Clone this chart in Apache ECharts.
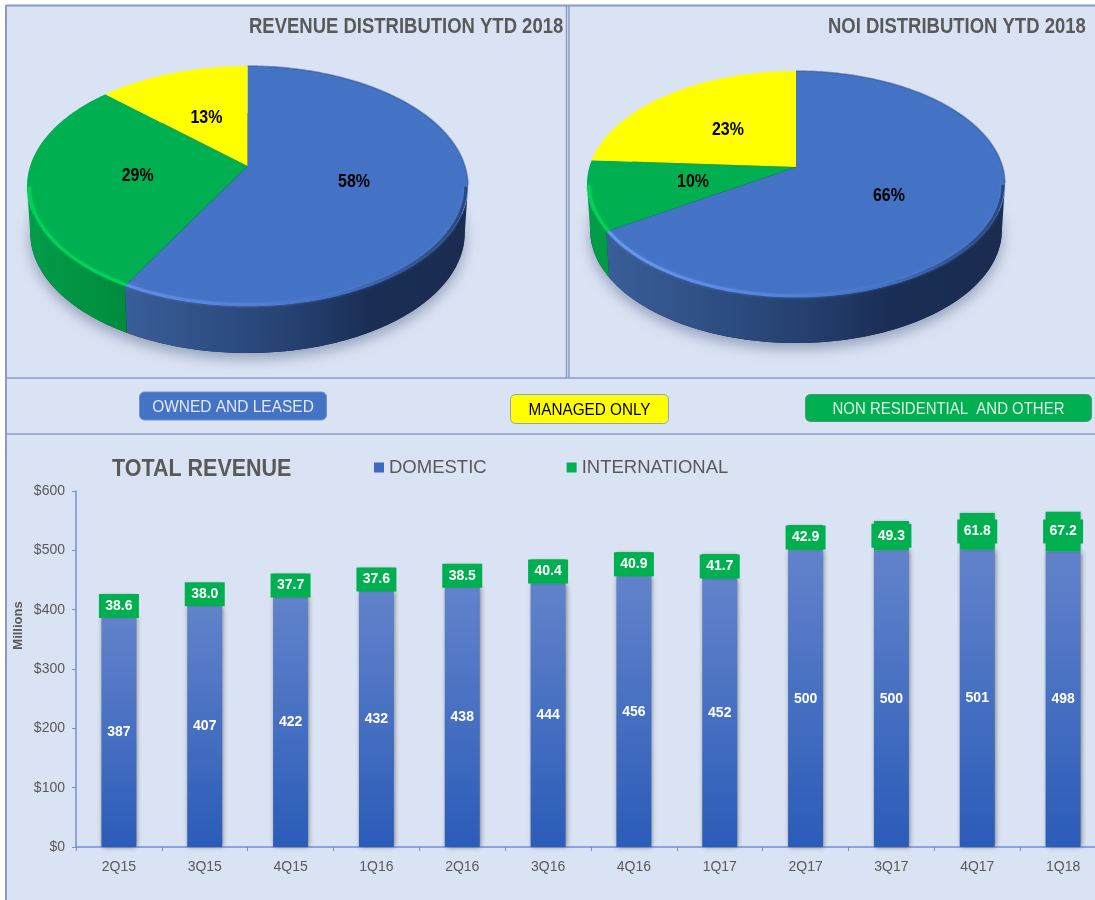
<!DOCTYPE html>
<html>
<head>
<meta charset="utf-8">
<title>Revenue</title>
<style>
  html, body { margin: 0; padding: 0; background: #fff; }
  #main { width: 1095px; height: 900px; }
</style>
<script src="https://cdn.jsdelivr.net/npm/echarts@6/dist/echarts.min.js"></script>
</head>
<body>
<div id="main"></div>
<script>
var quarters = ['2Q15','3Q15','4Q15','1Q16','2Q16','3Q16','4Q16','1Q17','2Q17','3Q17','4Q17','1Q18'];
var domestic = [387, 407, 422, 432, 438, 444, 456, 452, 500, 500, 501, 498];
var international = [38.6, 38.0, 37.7, 37.6, 38.5, 40.4, 40.9, 41.7, 42.9, 49.3, 61.8, 67.2];
var sliceNames = ['OWNED AND LEASED', 'NON RESIDENTIAL  AND OTHER', 'MANAGED ONLY'];
var revenueShares = [58, 29, 13];
var noiShares = [66, 10, 23];

var ARIAL = '"Liberation Sans", sans-serif';
var GRAY = '#595959';
var topColors = ['#4472c4', '#00b050', '#ffff00'];
var wallStops = [
    [{offset: 0, color: '#3a5e9a'}, {offset: 0.5, color: '#24406f'}, {offset: 0.72, color: '#1a2d54'}, {offset: 1, color: '#1a2c50'}],
    [{offset: 0, color: '#029d48'}, {offset: 0.3, color: '#00853a'}, {offset: 1, color: '#00853a'}],
    [{offset: 0, color: '#cccc00'}, {offset: 1, color: '#cccc00'}]
];
var rimStops = [
    [{offset: 0, color: '#6d9cf2'}, {offset: 0.45, color: '#5583da'}, {offset: 0.7, color: '#4472c4'}, {offset: 0.85, color: '#35599c'}, {offset: 1, color: '#2a4778'}],
    [{offset: 0, color: '#00d35c'}, {offset: 1, color: '#00d35c'}],
    [{offset: 0, color: '#ffff00'}, {offset: 1, color: '#ffff00'}]
];

// perspective 3d pie: a circle mapped on an ellipse, the apex sits above the ellipse center
function piePoint(pie, u, v, k) {
    var d = 1 + pie.b * v;
    var up = u * Math.sqrt(1 - pie.b * pie.b) / d;
    var vp = (v + pie.b) / d;
    return [pie.cx + pie.rx * (k || 1) * up, pie.cy + pie.ry * (k || 1) * vp];
}

function arcPoint(pie, share, k) {
    var a = share / 100 * Math.PI * 2;
    return piePoint(pie, Math.sin(a), -Math.cos(a), k);
}

function pieRenderer(pie, shares) {
    return function (params, api) {
        var i = params.dataIndex;
        var start = 0, j;
        for (j = 0; j < i; j++) start += shares[j];
        var end = i === shares.length - 1 ? 100 : start + api.value(0);
        var children = [];
        var top = [piePoint(pie, 0, 0)];
        var front = [], upper = [], wall = [], back = [];
        var steps = Math.ceil((end - start) * 4);
        for (j = 0; j <= steps; j++) {
            var s = start + (end - start) * j / steps;
            var p = arcPoint(pie, s);
            top.push(p);
            if (p[1] >= pie.cy) {
                front.push(arcPoint(pie, s, 0.99));
                wall.push(p);
                back.unshift([pie.cx + (p[0] - pie.cx) * pie.bottomK, p[1] + pie.depth]);
            } else {
                upper.push(p);
            }
        }
        if (i === 0) {
            var rim = [];
            for (j = 0; j < 360; j += 2) {
                rim.push([pie.cx + pie.rx * pie.bottomK * Math.cos(j * Math.PI / 180), pie.cy + pie.depth + pie.ry * Math.sin(j * Math.PI / 180)]);
            }
            children.push({
                type: 'polygon', shape: {points: rim},
                style: {fill: '#1a2c50', shadowBlur: 14, shadowOffsetY: 6, shadowColor: 'rgba(90,105,140,0.55)'}
            });
        }
        var x0 = pie.cx - pie.rx, x1 = pie.cx + pie.rx;
        if (wall.length > 1) {
            var wallLeft = Math.min(wall[0][0], wall[wall.length - 1][0]);
            var left = i === 0 ? wallLeft : x0;
            children.push({
                type: 'polygon', shape: {points: wall.concat(back)},
                style: {fill: new echarts.graphic.LinearGradient(left, 0, x1, 0, wallStops[i], true)}
            });
        }
        children.push({type: 'polygon', shape: {points: top}, style: {fill: topColors[i]}});
        if (front.length > 1) {
            children.push({
                type: 'polyline', shape: {points: front},
                style: {
                    fill: null, lineWidth: 3, shadowBlur: 3,
                    shadowColor: i === 0 ? 'rgba(90,140,235,0.6)' : 'rgba(0,210,90,0.6)',
                    stroke: new echarts.graphic.LinearGradient(x0, 0, x1, 0, rimStops[i], true)
                }
            });
        }
        if (i === 0 && upper.length > 1) {
            children.push({type: 'polyline', shape: {points: upper}, style: {fill: null, lineWidth: 1.5, stroke: 'rgba(47,80,135,0.5)'}});
        }
        var mid = (start + end) / 2 / 100 * Math.PI * 2;
        var lab = piePoint(pie, 0.5 * Math.sin(mid), -0.5 * Math.cos(mid));
        children.push({
            type: 'text',
            x: lab[0] - 1, y: lab[1] + 1, scaleX: 0.84,
            style: {
                x: 0, y: 0, text: api.value(0) + '%', fill: '#000',
                font: 'bold 19px ' + ARIAL, align: 'center', verticalAlign: 'middle'
            }
        });
        return {type: 'group', children: children};
    };
}

function button(x, y, w, h, fill, border, label, color, scale) {
    return [
        {type: 'rect', z: 2, shape: {x: x, y: y, width: w, height: h, r: 5}, style: {fill: fill, stroke: border, lineWidth: 1}},
        {
            type: 'text', z: 3, x: x + w / 2, y: y + h / 2 + 1.5, scaleX: scale,
            style: {x: 0, y: 0, text: label, fill: color, font: '17px ' + ARIAL, align: 'center', verticalAlign: 'middle'}
        }
    ];
}

function heading(x, y, label, size, scale) {
    return {
        type: 'text', z: 3, x: x, y: y, scaleX: scale,
        style: {x: 0, y: 0, text: label, fill: GRAY, font: 'bold ' + size + 'px ' + ARIAL, align: 'left', verticalAlign: 'middle'}
    };
}

function hline(y, w) {
    return {type: 'line', z: 1, shape: {x1: 6, y1: y, x2: 1095, y2: y}, style: {stroke: '#8a9cc6', lineWidth: w}};
}
function vline(x, y1, y2, w) {
    return {type: 'line', z: 1, shape: {x1: x, y1: y1, x2: x, y2: y2}, style: {stroke: '#8a9cc6', lineWidth: w}};
}

var myChart = echarts.init(document.getElementById('main'));
var option = {
    animation: false,
    backgroundColor: '#ffffff',
    textStyle: {fontFamily: ARIAL},
    legend: {
        left: 374, top: 458, padding: 0, itemWidth: 10, itemHeight: 10, itemGap: 80,
        icon: 'rect',
        textStyle: {color: GRAY, fontSize: 18.5, fontFamily: ARIAL},
        data: [
            {name: 'DOMESTIC', itemStyle: {color: '#3f68bf'}},
            {name: 'INTERNATIONAL', itemStyle: {color: '#00b050'}}
        ]
    },
    graphic: [
        {type: 'rect', z: 0, shape: {x: 6, y: 5, width: 1089, height: 895}, style: {fill: '#dae3f3'}},
        hline(5.5, 2), hline(378, 1.5), hline(434, 1.5),
        vline(6, 5, 900, 2), vline(566.5, 5, 378, 1.5), vline(569, 5, 378, 1.5),
        heading(249, 27, 'REVENUE DISTRIBUTION YTD 2018', 22, 0.84),
        heading(828, 27, 'NOI DISTRIBUTION YTD 2018', 22, 0.84),
        heading(112, 469, 'TOTAL REVENUE', 24, 0.895),
        {
            type: 'text', z: 3, x: 18.5, y: 625.5, rotation: Math.PI / 2,
            style: {x: 0, y: 0, text: 'Millions', fill: GRAY, font: 'bold 13px ' + ARIAL, align: 'center', verticalAlign: 'middle'}
        }
    ].concat(
        button(139.5, 392, 187, 28, '#4472c4', '#6f8fd0', sliceNames[0], '#e3e9f7', 0.91),
        button(510.5, 394.5, 158, 29, '#ffff00', '#8ea3cc', sliceNames[2], '#000000', 0.9),
        button(805.5, 394.5, 286, 27, '#00b050', '#4a9a70', sliceNames[1], '#e3f3e9', 0.88)
    ),
    // the plot runs past the right edge of the picture, as in the source
    grid: {left: 76, top: 491, right: -11, height: 356, outerBoundsMode: 'none'},
    xAxis: {
        type: 'category',
        data: quarters,
        axisLine: {lineStyle: {color: '#7390d8', width: 1.5}},
        axisTick: {show: true, alignWithLabel: false, length: 4, lineStyle: {color: '#7390d8'}},
        axisLabel: {color: GRAY, fontSize: 14, margin: 13, interval: 0, fontFamily: ARIAL}
    },
    yAxis: {
        type: 'value',
        min: 0, max: 600, interval: 100,
        splitLine: {show: false},
        axisLine: {show: true, lineStyle: {color: '#7390d8', width: 1.5}},
        axisTick: {show: true, length: 4, lineStyle: {color: '#7390d8'}},
        axisLabel: {color: GRAY, fontSize: 14, margin: 11, fontFamily: ARIAL, formatter: function (v) { return '$' + v; }}
    },
    series: [
        {
            name: 'DOMESTIC',
            type: 'bar',
            stack: 'total',
            barWidth: 35,
            data: domestic,
            itemStyle: {
                color: new echarts.graphic.LinearGradient(0, 0, 0, 1, [{offset: 0, color: '#6283cb'}, {offset: 1, color: '#2b5cb8'}]),
                shadowBlur: 5, shadowColor: 'rgba(70,70,70,0.7)', shadowOffsetX: 1
            },
            label: {show: true, position: 'inside', color: '#fff', fontSize: 14, fontWeight: 'bold', fontFamily: ARIAL}
        },
        {
            name: 'INTERNATIONAL',
            type: 'bar',
            stack: 'total',
            barWidth: 35,
            data: international,
            itemStyle: {color: '#00b050', shadowBlur: 3, shadowColor: 'rgba(70,70,70,0.4)'},
            label: {
                show: true, position: 'inside', color: '#fff', fontSize: 14, fontWeight: 'bold', fontFamily: ARIAL,
                backgroundColor: '#00b050', width: 40, height: 24, lineHeight: 24, align: 'center',
                formatter: function (p) { return p.value.toFixed(1); }
            }
        },
        {
            type: 'custom', coordinateSystem: 'none', silent: true, z: 5,
            data: revenueShares,
            renderItem: pieRenderer({cx: 247.5, cy: 186, rx: 220.5, ry: 120, b: -1 / 6, depth: 47, bottomK: 0.985}, revenueShares)
        },
        {
            type: 'custom', coordinateSystem: 'none', silent: true, z: 5,
            data: noiShares,
            renderItem: pieRenderer({cx: 796, cy: 184, rx: 209, ry: 113, b: -0.15, depth: 46, bottomK: 0.985}, noiShares)
        }
    ]
};
myChart.setOption(option);
</script>
</body>
</html>
